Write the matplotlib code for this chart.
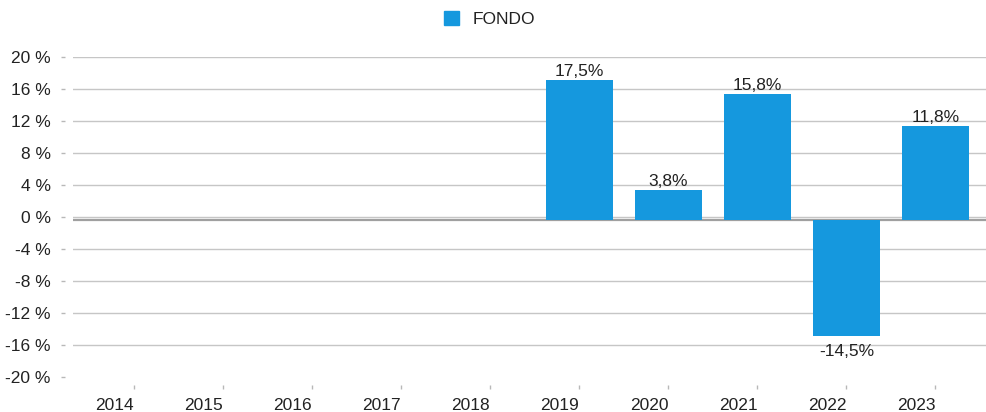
import matplotlib
matplotlib.use('Agg')
import matplotlib.pyplot as plt
import numpy as np
from matplotlib.patches import Patch
from matplotlib.transforms import ScaledTranslation

plt.rcParams['font.family'] = ['Liberation Sans', 'DejaVu Sans']

years = ['2014', '2015', '2016', '2017', '2018', '2019', '2020', '2021', '2022', '2023']
bar_years = ['2019', '2020', '2021', '2022', '2023']
values = [17.5, 3.8, 15.8, -14.5, 11.8]
value_labels = ['17,5%', '3,8%', '15,8%', '-14,5%', '11,8%']
yticks = [-20, -16, -12, -8, -4, 0, 4, 8, 12, 16, 20]
ytick_labels = ['-20 %', '-16 %', '-12 %', '-8 %', '-4 %', '0 %', '4 %', '8 %', '12 %', '16 %', '20 %']
series_name = 'FONDO'

bar_color = '#1598de'
text_color = '#222222'
fs = 12.5

fig = plt.figure(figsize=(9.87, 4.12), dpi=100)
ax = fig.add_axes([0.07396, 0.08495, 0.92604, 0.7768])

xpos = [years.index(y) for y in bar_years]
shift = ScaledTranslation(0, -3 / 100, fig.dpi_scale_trans)

bars = ax.bar(xpos, values, width=0.75, color=bar_color, zorder=3)
for b in bars:
    b.set_transform(ax.transData + shift)

for x, v, lab in zip(xpos, values, value_labels):
    if v >= 0:
        ax.annotate(lab, (x, v), xytext=(0, -1.8), textcoords='offset points',
                    ha='center', va='bottom', fontsize=fs, color=text_color, zorder=4)
    else:
        ax.annotate(lab, (x, v), xytext=(0, -7.7), textcoords='offset points',
                    ha='center', va='top', fontsize=fs, color=text_color, zorder=4)

ax.set_xlim(-0.685, 9.58)
ax.set_ylim(-20, 20)
ax.set_yticks(yticks)
ax.set_yticklabels(ytick_labels)
ax.set_xticks(range(len(years)))
ax.set_xticklabels(years)

for s in ax.spines.values():
    s.set_visible(False)
ax.spines['left'].set_position(('outward', 6))
ax.spines['bottom'].set_position(('outward', 6))

ax.tick_params(axis='both', length=3, width=1, color='#b8b8b8', labelsize=fs,
               labelcolor=text_color)
ax.tick_params(axis='y', pad=7)
ax.tick_params(axis='x', pad=6.2)
for t in ax.get_xticklabels():
    t.set_horizontalalignment('right')

ax.set_axisbelow(True)
ax.yaxis.grid(True, color='#c6c6c6', linewidth=1.0)
ax.yaxis.get_major_ticks()[0].gridline.set_visible(False)

zl = ax.axhline(0, color='#a0a0a0', linewidth=1.6, zorder=2)
zl.set_transform(zl.get_transform() + shift)

fig.legend(handles=[Patch(color=bar_color, label=series_name)], loc='center',
           bbox_to_anchor=(0.4965, 1 - 19 / 412), frameon=False, fontsize=fs,
           handlelength=0.85, handleheight=0.85, handletextpad=0.8,
           labelcolor=text_color)

fig.savefig('out.png', dpi=100)
